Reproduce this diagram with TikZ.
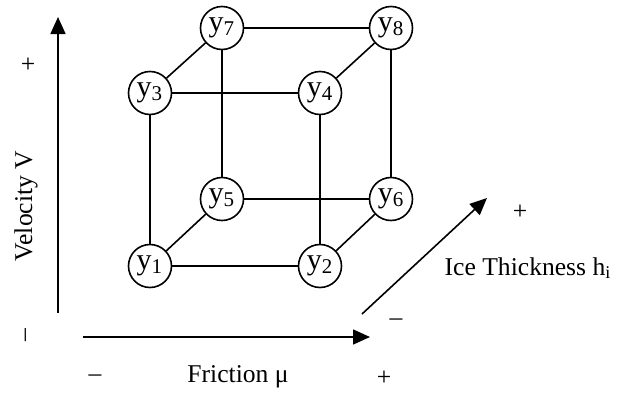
\documentclass[tikz,border=0pt]{standalone}
\usepackage{fontspec}
\setmainfont{Liberation Serif}
\usepackage{tikz}
\usetikzlibrary{positioning, arrows.meta}
\tikzset{
  node y/.style = {circle, draw=black, line width=0.8pt, fill=white,
                   minimum size=21.5pt, inner sep=0pt, font=\fontsize{15}{18}\selectfont},
  edge cube/.style = {black, line width=0.8pt},
  axis/.style = {-{Triangle[length=8.5pt, width=7.5pt]}, black, line width=0.8pt},
  axis label/.style = {font=\fontsize{12.8}{15}\selectfont, inner sep=0pt},
}

\begin{document}
\begin{tikzpicture}[x=5pt, y=5pt]
\useasboundingbox (0,0) rectangle (62.8,39.3);

% Cube corners
\node[node y] (y1) at (15.0, 12.7) {y\textsubscript{1}};
\node[node y] (y2) at (32.0, 12.7) {y\textsubscript{2}};
\node[node y] (y5) at (22.2, 19.4) {y\textsubscript{5}};
\node[node y] (y6) at (39.1, 19.4) {y\textsubscript{6}};
\node[node y] (y3) at (15.0, 30.0) {y\textsubscript{3}};
\node[node y] (y4) at (32.0, 30.0) {y\textsubscript{4}};
\node[node y] (y7) at (22.2, 36.5) {y\textsubscript{7}};
\node[node y] (y8) at (39.1, 36.5) {y\textsubscript{8}};

% Cube edges
\draw[edge cube] (y1) -- (y2);
\draw[edge cube] (y1) -- (y3);
\draw[edge cube] (y1) -- (y5);
\draw[edge cube] (y2) -- (y4);
\draw[edge cube] (y2) -- (y6);
\draw[edge cube] (y3) -- (y4);
\draw[edge cube] (y3) -- (y7);
\draw[edge cube] (y4) -- (y8);
\draw[edge cube] (y5) -- (y6);
\draw[edge cube] (y5) -- (y7);
\draw[edge cube] (y6) -- (y8);
\draw[edge cube] (y7) -- (y8);

% Velocity axis
\coordinate (v0) at (5.8, 8.0);
\coordinate (v1) at (5.8, 37.6);
\draw[axis] (v0) -- (v1);
\node[axis label] (vplus) at (2.8, 32.8) {+};
\node[axis label, rotate=90] (vlab) at (2.6, 18.7) {Velocity V};
\node[axis label, rotate=90] (vminus) at (2.8, 5.8) {–};

% Friction axis
\coordinate (f0) at (8.3, 5.6);
\coordinate (f1) at (37.0, 5.6);
\draw[axis] (f0) -- (f1);
\node[axis label] (fminus) at (9.5, 1.5) {–};
\node[axis label] (flab) at (23.8, 1.6) {Friction μ};
\node[axis label] (fplus) at (38.4, 1.5) {+};

% Ice thickness axis
\coordinate (h0) at (36.2, 7.9);
\coordinate (h1) at (48.7, 19.5);
\draw[axis] (h0) -- (h1);
\node[axis label] (hplus) at (52.0, 18.1) {+};
\node[axis label] (hlab) at (52.8, 12.5) {Ice Thickness h\textsubscript{i}};
\node[axis label] (hminus) at (39.6, 7.1) {–};

\end{tikzpicture}
\end{document}
